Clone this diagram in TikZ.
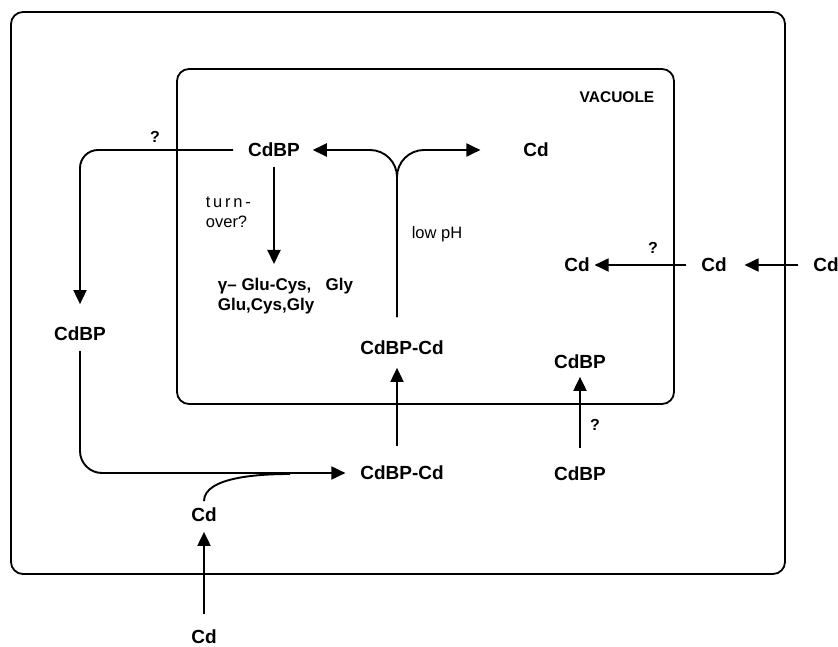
\documentclass[tikz,border=0pt]{standalone}
\usepackage{fontspec}
\setmainfont{Liberation Sans}
\usetikzlibrary{arrows.meta}

\begin{document}
\begin{tikzpicture}[x=1pt, y=-1pt, >={Triangle[length=14pt,width=13pt]}, line width=1.8pt,
    comp/.style={draw, rounded corners=12pt, line width=1.8pt, inner sep=0pt},
    mol/.style={font=\bfseries\fontsize{19}{22}\selectfont, inner sep=2pt},
    note/.style={font=\fontsize{16.5}{20}\selectfont, inner sep=2pt, align=left},
    qm/.style={font=\bfseries\fontsize{16}{18}\selectfont, inner sep=1pt},
    arr/.style={->, line width=1.9pt}]
  \useasboundingbox (0,0) rectangle (838,647);
  % compartments
  \node[comp, minimum width=774pt, minimum height=562pt] (cell) at (398,293) {};
  \node[comp, minimum width=497pt, minimum height=335pt] (vacuole) at (425.5,236.5) {};
  \node[font=\bfseries\fontsize{15.5}{18}\selectfont] (vaclbl) at (617,97) {VACUOLE};
  % species
  \node[mol] (cdbp) at (274,150) {CdBP};
  \node[mol] (cdvac) at (536,150) {Cd};
  \node[qm] (q1) at (155,137) {?};
  \node[note, anchor=north west] (turn) at (203,194) {t\,u\,r\,n\,-\\over?};
  \node[font=\bfseries\fontsize{17}{20}\selectfont, align=left, anchor=north west, inner sep=2pt] (prod) at (215,275) {γ-- Glu-Cys,\ \ \ Gly\\Glu,Cys,Gly};
  \node[note] (ph) at (437,234) {low pH};
  \node[mol] (cdin) at (577,265) {Cd};
  \node[qm] (q2) at (653,248) {?};
  \node[mol] (cdcyt) at (714,265) {Cd};
  \node[mol] (cdout) at (826,265) {Cd};
  \node[mol] (cdbpcyt) at (80,334) {CdBP};
  \node[mol] (cxvac) at (402,348) {CdBP-Cd};
  \node[mol] (cdbpvac) at (580,362) {CdBP};
  \node[mol] (cxcyt) at (402,473) {CdBP-Cd};
  \node[mol] (cdbpx) at (580,474) {CdBP};
  \node[qm] (q3) at (595,425) {?};
  \node[mol] (cdfree) at (204,515) {Cd};
  \node[mol] (cdext) at (204,637) {Cd};
  \coordinate (merge) at (290,474);
  % transport and turnover
  \draw[arr, shorten <=7pt, shorten >=11pt] (cdbp.south) -- (cdbp.south |- prod.north);
  \draw[arr, rounded corners=27pt, shorten <=21pt, shorten >=10pt] ([xshift=-5pt]cxvac.north) |- (cdbp.east);
  \draw[arr, rounded corners=27pt, shorten <=21pt, shorten >=40pt] ([xshift=-5pt]cxvac.north) |- (cdvac.west);
  \draw[arr, rounded corners=18pt, shorten <=12pt, shorten >=20pt] (cdbp.west) -| (cdbpcyt.north);
  \draw[arr, rounded corners=22pt, shorten <=7pt, shorten >=12pt] (cdbpcyt.south) |- (cxcyt.west);
  \draw[line width=1.9pt, shorten <=4pt] (cdfree.north) to[out=90, in=180, looseness=0.8] (merge);
  \draw[arr, shorten <=17pt, shorten >=10pt] ([xshift=-5pt]cxcyt.north) -- ([xshift=-5pt]cxvac.south);
  \foreach \a/\b/\s/\e in {cdbpx.north/cdbpvac.south/16pt/5pt, cdcyt.west/cdin.east/12pt/2pt,
      cdout.west/cdcyt.east/12pt/15pt, cdext.north/cdfree.south/13pt/7pt}
    \draw[arr, shorten <=\s, shorten >=\e] (\a) -- (\b);
\end{tikzpicture}
\end{document}
